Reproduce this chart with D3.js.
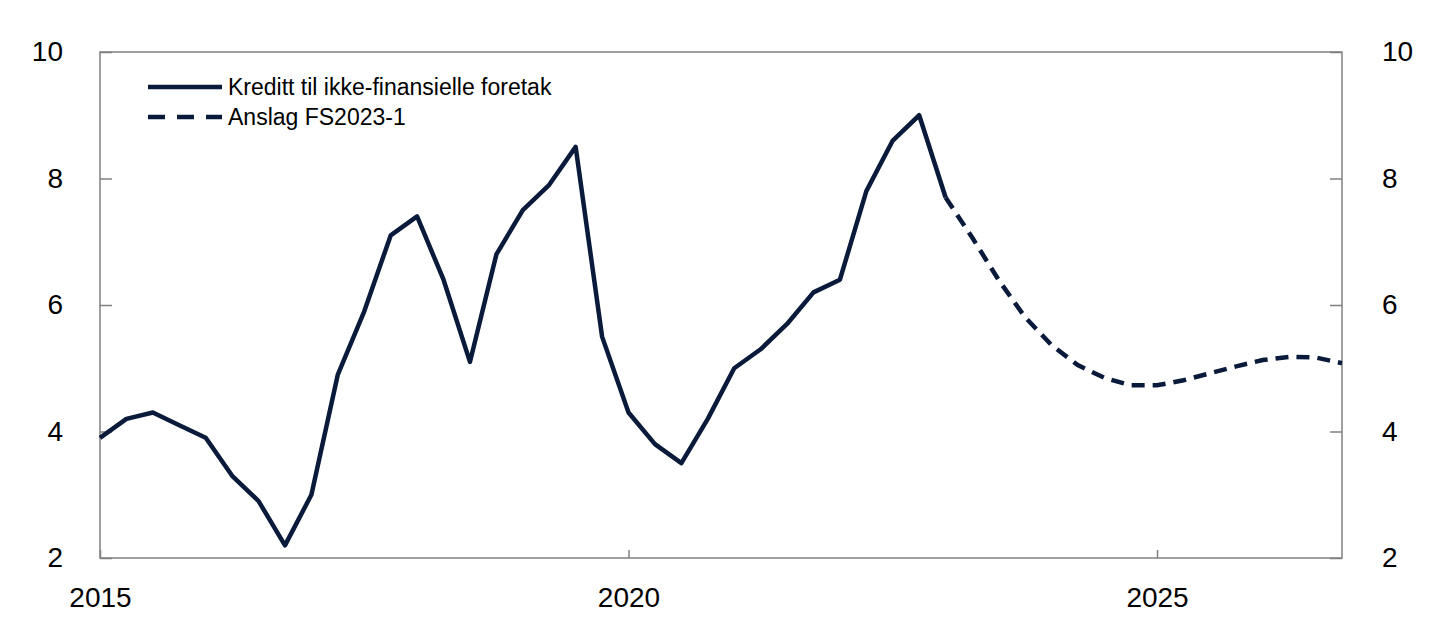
<!DOCTYPE html>
<html>
<head>
<meta charset="utf-8">
<script src="https://cdn.jsdelivr.net/npm/d3@7"></script>
<style>
  html, body { margin: 0; padding: 0; background: #fff; }
  svg { display: block; font-family: Arial, "Liberation Sans", sans-serif; }
</style>
</head>
<body>
<div id="chart"></div>
<script>
const width = 1445;
const height = 639;
const margin = { top: 52, right: 103, bottom: 81, left: 100 };
const lineColor = '#0a1a3a';
const axisColor = '#808080';

// quarterly values, first quarter 2015Q1
const startYear = 2015;
const actual = [
  3.9, 4.2, 4.3, 4.1, 3.9, 3.3, 2.9, 2.2,
  3.0, 4.9, 5.9, 7.1, 7.4, 6.4, 5.1, 6.8,
  7.5, 7.9, 8.5, 5.5, 4.3, 3.8, 3.5, 4.2,
  5.0, 5.3, 5.7, 6.2, 6.4, 7.8, 8.6, 9.0,
  7.7
];
// forecast FS2023-1, first quarter 2023Q1
const forecastStart = 2023;
const forecast = [
  7.7, 7.07, 6.4, 5.81, 5.37, 5.05, 4.85, 4.73,
  4.73, 4.81, 4.92, 5.03, 5.13, 5.18, 5.17, 5.08
];
const xTicks = [2015, 2020, 2025];
const yTicks = [2, 4, 6, 8, 10];
const seriesNames = ['Kreditt til ikke-finansielle foretak', 'Anslag FS2023-1'];

const toPoints = (values, start) => values.map((v, i) => ({ t: start + i * 0.25, v }));

const svg = d3.select('#chart')
  .append('svg')
    .attr('width', width)
    .attr('height', height);

const x = d3.scaleLinear()
  .domain([2015, 2026.75])
  .range([margin.left, width - margin.right]);

const y = d3.scaleLinear()
  .domain([2, 10])
  .range([height - margin.bottom, margin.top]);

// frame
svg.append('rect')
  .attr('x', x.range()[0])
  .attr('y', y.range()[1])
  .attr('width', x.range()[1] - x.range()[0])
  .attr('height', y.range()[0] - y.range()[1])
  .attr('fill', 'none')
  .attr('stroke', axisColor)
  .attr('stroke-width', 1.5);

const styleAxis = g => {
  g.select('.domain').remove();
  g.selectAll('.tick line').attr('stroke', axisColor).attr('stroke-width', 1.5);
  g.selectAll('.tick text').attr('fill', '#000').attr('font-size', '28px')
    .attr('font-family', 'Arial, "Liberation Sans", sans-serif');
};

svg.append('g')
  .attr('transform', `translate(${x.range()[0]},0)`)
  .call(d3.axisLeft(y).tickValues(yTicks).tickSize(-12).tickPadding(37).tickFormat(d3.format('d')))
  .call(styleAxis);

svg.append('g')
  .attr('transform', `translate(${x.range()[1]},0)`)
  .call(d3.axisRight(y).tickValues(yTicks).tickSize(-12).tickPadding(40).tickFormat(d3.format('d')))
  .call(styleAxis);

svg.append('g')
  .attr('transform', `translate(0,${y.range()[0]})`)
  .call(d3.axisBottom(x).tickValues(xTicks).tickSize(-8).tickPadding(29).tickFormat(d3.format('d')))
  .call(styleAxis);

const line = d3.line()
  .x(d => x(d.t))
  .y(d => y(d.v));

svg.append('path')
  .datum(toPoints(forecast, forecastStart))
  .attr('d', line)
  .attr('fill', 'none')
  .attr('stroke', lineColor)
  .attr('stroke-width', 4.5)
  .attr('stroke-dasharray', '13,8');

svg.append('path')
  .datum(toPoints(actual, startYear))
  .attr('d', line)
  .attr('fill', 'none')
  .attr('stroke', lineColor)
  .attr('stroke-width', 4.5)
  .attr('stroke-linejoin', 'round');

// legend
const legend = svg.append('g').attr('transform', 'translate(148,87)');
seriesNames.forEach((name, i) => {
  const row = legend.append('g').attr('transform', `translate(0,${i * 30})`);
  row.append('line')
    .attr('x1', 0).attr('x2', 74)
    .attr('stroke', lineColor)
    .attr('stroke-width', 4.5)
    .attr('stroke-dasharray', i === 1 ? '17,12' : null);
  row.append('text')
    .attr('x', 80)
    .attr('y', 8)
    .attr('font-size', '23px')
    .attr('fill', '#000')
    .text(name);
});
</script>
</body>
</html>
